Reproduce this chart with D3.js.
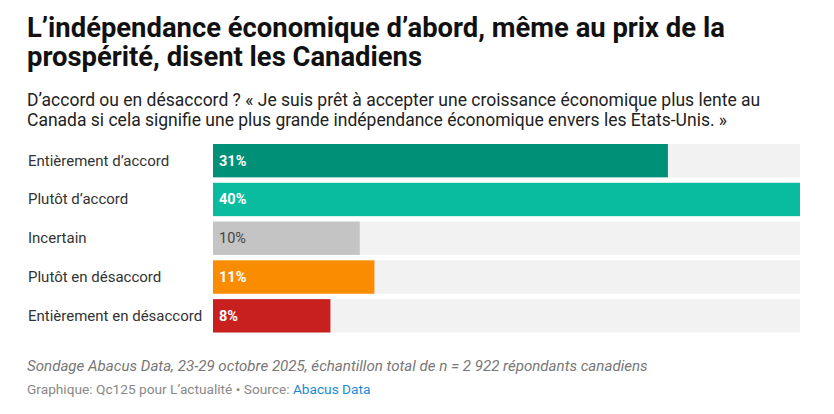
<!DOCTYPE html>
<html>
<head>
<meta charset="utf-8">
<script src="https://cdn.jsdelivr.net/npm/d3@7"></script>
<style>
body { margin: 0; background: #fff; }
text { font-family: Roboto, sans-serif; }
</style>
</head>
<body>
<div id="grafica"></div>
<script>
var reponses = ['Entièrement d’accord', 'Plutôt d’accord', 'Incertain', 'Plutôt en désaccord', 'Entièrement en désaccord'];
var valeurs = [31, 40, 10, 11, 8];
var couleurs = ['#009077', '#0abc9f', '#c4c4c4', '#f98c00', '#c81f1f'];
var titre = ['L’indépendance économique d’abord, même au prix de la', 'prospérité, disent les Canadiens'];
var sousTitre = ['D’accord ou en désaccord ? « Je suis prêt à accepter une croissance économique plus lente au', 'Canada si cela signifie une plus grande indépendance économique envers les États-Unis. »'];

var svg = d3.select("#grafica")
	.append('svg')
	.attr("width", 834)
	.attr("height", 414);

// titre
svg.selectAll(".titre")
	.data(titre).enter()
	.append("text")
	.attr("x", 27)
	.attr("y", function(d, i) { return 37 + i * 29; })
	.attr("font-size", "27.4px")
	.attr("font-weight", "bold")
	.attr("fill", "#111")
	.text(function(d) { return d; });

svg.selectAll(".sous")
	.data(sousTitre).enter()
	.append("text")
	.attr("x", 27)
	.attr("y", function(d, i) { return 106 + i * 20; })
	.attr("font-size", "17.5px")
	.attr("fill", "#222")
	.text(function(d) { return d; });

var x = d3.scaleLinear().domain([0, 40]).range([213, 800]);
var y = d3.scaleBand().domain(reponses).range([144, 332.5]).paddingInner(0.14).paddingOuter(0);

// fond gris
svg.selectAll(".fond")
	.data(reponses).enter()
	.append("rect")
	.attr("x", x(0))
	.attr("y", function(d) { return y(d); })
	.attr("width", x(40) - x(0))
	.attr("height", y.bandwidth())
	.attr("fill", "#f2f2f2");

svg.selectAll(".barre")
	.data(valeurs).enter()
	.append("rect")
	.attr("x", x(0))
	.attr("y", function(d, i) { return y(reponses[i]); })
	.attr("width", function(d) { return x(d) - x(0); })
	.attr("height", y.bandwidth())
	.attr("fill", function(d, i) { return couleurs[i]; });

svg.selectAll(".etiq")
	.data(reponses).enter()
	.append("text")
	.attr("x", 28)
	.attr("y", function(d) { return y(d) + y.bandwidth() / 2 + 5; })
	.attr("font-size", "15px")
	.attr("fill", "#333")
	.text(function(d) { return d; });

svg.selectAll(".val")
	.data(valeurs).enter()
	.append("text")
	.attr("x", x(0) + 6)
	.attr("y", function(d, i) { return y(reponses[i]) + y.bandwidth() / 2 + 5; })
	.attr("font-size", "14.5px")
	.attr("font-weight", function(d, i) { return i == 2 ? "normal" : "bold"; })
	.attr("fill", function(d, i) { return i == 2 ? "#444" : "#fff"; })
	.text(function(d) { return d + "%"; });

// notes
svg.append("text")
	.attr("x", 27)
	.attr("y", 371)
	.attr("font-size", "15.1px")
	.attr("font-style", "italic")
	.attr("fill", "#777")
	.text("Sondage Abacus Data, 23-29 octobre 2025, échantillon total de n = 2 922 répondants canadiens");

var source = svg.append("text")
	.attr("x", 27)
	.attr("y", 394)
	.attr("font-size", "13.7px")
	.attr("fill", "#888");
source.append("tspan").text("Graphique: Qc125 pour L’actualité • Source: ");
source.append("tspan").attr("fill", "#1a8ad4").text("Abacus Data");
</script>
</body>
</html>
